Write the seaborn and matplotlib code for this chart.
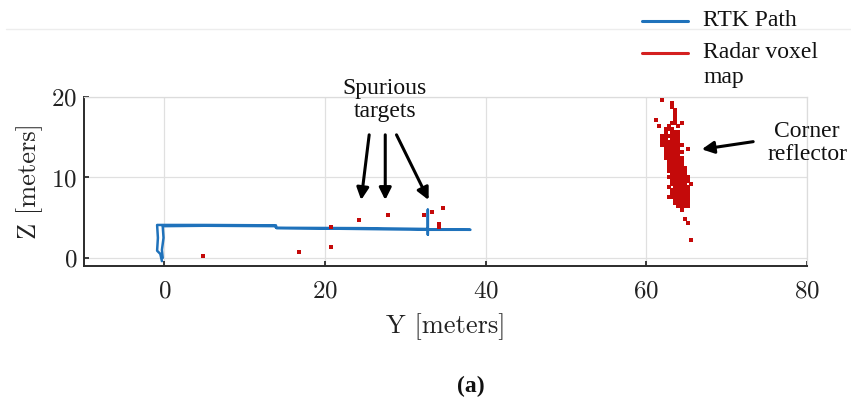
import numpy as np
import pandas as pd
import matplotlib
matplotlib.use("Agg")
import matplotlib.pyplot as plt
import seaborn as sns
from matplotlib.lines import Line2D

# ---------------- data ----------------
rtk_y = [-0.3, -0.5, -0.9, -0.8, -0.9, 5.0, 13.9, 13.9, 25.0, 32.8, 32.8, 32.8, 32.8, 38.1,
         33.0, 20.0, 14.0, 13.8, 5.0, -0.2, -0.1, -0.3, -0.2]
rtk_z = [-0.4, 0.5, 0.9, 2.5, 4.1, 4.1, 4.05, 3.75, 3.7, 3.6, 6.0, 2.9, 3.55, 3.5,
         3.5, 3.65, 3.7, 3.95, 4.0, 3.95, 2.5, 1.0, 0.0]

spur_y = [4.8, 16.8, 20.8, 20.8, 24.2, 27.8, 32.3, 33.3, 34.7, 34.2, 34.2]
spur_z = [0.25, 0.8, 1.3, 3.8, 4.7, 5.3, 5.3, 5.75, 6.25, 4.2, 3.8]

reflector_z_levels = [19.6, 19.2, 18.8, 18.4, 18.0, 17.6, 17.2, 16.8, 16.4, 16.0, 15.6, 15.2,
                      14.8, 14.4, 14.0, 13.6, 13.2, 12.8, 12.4, 12.0, 11.6, 11.2, 10.8,
                      10.4, 10.0, 9.6, 9.2, 8.8, 8.4, 8.0, 7.6, 7.2, 6.8, 6.4, 6.0, 4.8,
                      4.4, 2.2]
reflector_y_rows = [
    [62.0],
    [63.2],
    [63.2],
    [63.6],
    [63.6],
    [63.6],
    [61.2, 63.6],
    [63.2, 63.6, 64.4],
    [61.6, 62.8, 64.0],
    [62.4, 62.8, 63.2],
    [62.4, 63.2, 63.6, 64.0],
    [62.0, 62.4, 62.8, 63.2, 63.6, 64.0],
    [62.0, 62.4, 63.2, 63.6, 64.0],
    [62.0, 62.4, 62.8, 63.2, 63.6, 64.0],
    [62.0, 62.4, 62.8, 63.2, 63.6, 64.0, 64.4],
    [62.4, 62.8, 63.2, 63.6, 64.0, 65.2],
    [62.4, 62.8, 63.2, 63.6, 64.0, 64.4],
    [62.4, 62.8, 63.2, 63.6, 64.0],
    [62.4, 62.8, 63.2, 63.6, 64.0, 64.4],
    [62.8, 63.2, 63.6, 64.0, 64.4],
    [62.8, 63.2, 63.6, 64.0, 64.4],
    [62.8, 63.2, 63.6, 64.0, 64.4, 64.8],
    [62.8, 63.2, 63.6, 64.0, 64.4, 64.8],
    [63.2, 63.6, 64.0, 64.4, 64.8],
    [62.8, 63.2, 63.6, 64.0, 64.4, 64.8, 65.2],
    [63.2, 63.6, 64.0, 64.4, 64.8, 65.2],
    [63.2, 63.6, 64.0, 64.4, 64.8, 65.6],
    [62.8, 63.6, 64.0, 64.4, 64.8, 65.2],
    [63.2, 63.6, 64.0, 64.4, 64.8, 65.2],
    [63.2, 63.6, 64.0, 64.4, 64.8, 65.2],
    [62.8, 63.2, 63.6, 64.0, 64.4, 64.8, 65.2],
    [63.6, 64.0, 64.4, 64.8, 65.2],
    [63.6, 64.0, 64.4, 64.8, 65.2],
    [64.0, 64.4, 64.8, 65.2],
    [64.4],
    [64.8],
    [65.2],
    [65.6],
]

x_ticks = [0, 20, 40, 60, 80]
y_ticks = [0, 10, 20]

# ---------------- build tables ----------------
rtk_df = pd.DataFrame({"Y": rtk_y, "Z": rtk_z, "order": range(len(rtk_y))})
ry, rz = [], []
for zl, row in zip(reflector_z_levels, reflector_y_rows):
    for yv in row:
        ry.append(yv)
        rz.append(zl)
radar_df = pd.DataFrame({"Y": spur_y + ry, "Z": spur_z + rz})

# ---------------- style ----------------
sns.set_theme(style="whitegrid")
plt.rcParams["font.family"] = ["cmr10", "DejaVu Serif"]
plt.rcParams["axes.formatter.use_mathtext"] = True
plt.rcParams["mathtext.fontset"] = "cm"

W, H = 851, 399
fig = plt.figure(figsize=(W / 100, H / 100), dpi=100)
ax = fig.add_axes([84 / W, 1 - 266 / H, (807 - 84) / W, (266 - 97) / H])

BLUE = "#1f72bb"
RED = "#c40a0a"

sns.lineplot(data=rtk_df, x="Y", y="Z", sort=False, estimator=None, color=BLUE,
             linewidth=1.8, ax=ax, zorder=3)
sns.scatterplot(data=radar_df, x="Y", y="Z", marker="s", s=8, color=RED,
                linewidth=0, ax=ax, zorder=4)

ax.set_xlim(-10, 80)
ax.set_ylim(-1, 20)
ax.set_xticks(x_ticks)
ax.set_yticks(y_ticks)
ax.grid(True, color="#e0e0e0", linewidth=0.9)
ax.set_axisbelow(True)
for side in ["top", "right"]:
    ax.spines[side].set_color("#dcdcdc")
    ax.spines[side].set_linewidth(0.9)
for side in ["left", "bottom"]:
    ax.spines[side].set_color("#2b2b2b")
    ax.spines[side].set_linewidth(1.4)
ax.tick_params(axis="both", direction="in", length=3.5, width=1.3, color="#2b2b2b",
               labelsize=18, labelcolor="#222222")
ax.tick_params(axis="x", pad=10, top=False)
ax.tick_params(axis="y", pad=5, right=False)
ax.tick_params(axis="both", which="both", bottom=True, left=True)

ax.set_xlabel("Y [meters]", fontsize=19, color="#222222", labelpad=8)
ax.set_ylabel("Z [meters]", fontsize=19, color="#222222", labelpad=6)

# ---------------- annotations ----------------
ann_font = dict(family=["Liberation Serif", "DejaVu Serif"], fontsize=17, color="#111111")
fig.text(385 / W, 1 - 100 / H, "Spurious\ntargets", ha="center", va="center",
         linespacing=1.15, **ann_font)
fig.text(807 / W, 1 - 143 / H, "Corner\nreflector", ha="center", va="center",
         linespacing=1.1, **ann_font)

arrow_kw = dict(arrowstyle="-|>", color="black", lw=2.2, mutation_scale=18,
                shrinkA=0, shrinkB=0)
for tail, tip in [((25.5, 15.3), (24.5, 7.2)),
                  ((27.5, 15.3), (27.5, 7.2)),
                  ((28.9, 15.3), (32.9, 7.2)),
                  ((73.3, 14.45), (66.9, 13.5))]:
    ax.annotate("", xy=tip, xytext=tail, arrowprops=arrow_kw, annotation_clip=False)

# legend (outside axes, top right)
fig.add_artist(Line2D([642 / W, 688 / W], [1 - 20.5 / H] * 2, color=BLUE, lw=2.2,
                      transform=fig.transFigure))
fig.add_artist(Line2D([642 / W, 688 / W], [1 - 52.5 / H] * 2, color="#d42020", lw=2.2,
                      transform=fig.transFigure))
fig.text(703 / W, 1 - 20 / H, "RTK Path", ha="left", va="center", **ann_font)
fig.text(703 / W, 1 - 52 / H, "Radar voxel", ha="left", va="center", **ann_font)
fig.text(703 / W, 1 - 77 / H, "map", ha="left", va="center", **ann_font)

# faint separator line
fig.add_artist(Line2D([6 / W, 1.0], [1 - 28.5 / H] * 2, color="#ededed", lw=1.0,
                      transform=fig.transFigure))

# caption
fig.text(471 / W, 1 - 386 / H, "(a)", ha="center", va="center", fontsize=17,
         fontweight="bold", family=["Liberation Serif", "DejaVu Serif"], color="#111111")

fig.savefig("out.png", dpi=100)
